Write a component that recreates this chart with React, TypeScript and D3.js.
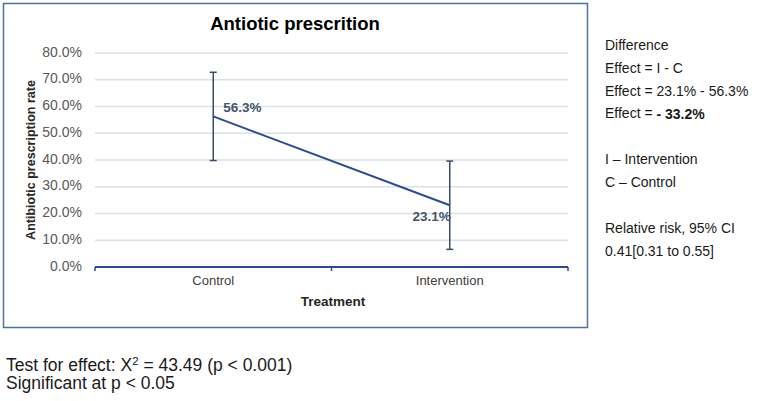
import { line, scaleBand, scaleLinear } from "d3";

const W = 780;
const H = 401;

// chart data
const categories = ["Control", "Intervention"];
const rates = [56.3, 23.1];
const errors = [16.5, 16.5];
const yTicks = [0, 10, 20, 30, 40, 50, 60, 70, 80];

const sideNotes = [
  "Difference",
  "Effect = I - C",
  "Effect = 23.1% - 56.3%",
  "",
  "",
  "I \u2013 Intervention",
  "C \u2013 Control",
  "",
  "Relative risk, 95% CI",
  "0.41[0.31 to 0.55]",
];

const PLOT = { left: 95, right: 568, top: 53, bottom: 267 };
const FONT = "'Liberation Sans', Arial, sans-serif";
const LINE_COLOR = "#2f4b8c";

function App() {
  const xScale = scaleBand<string>()
    .domain(categories)
    .range([PLOT.left, PLOT.right]);
  const yScale = scaleLinear().domain([0, 80]).range([PLOT.bottom, PLOT.top]);

  const cx = (c: string) => (xScale(c) ?? 0) + xScale.bandwidth() / 2;
  const points = categories.map((c, i) => ({ c, v: rates[i], e: errors[i] }));

  const linePath = line<{ c: string; v: number }>()
    .x((d) => cx(d.c))
    .y((d) => yScale(d.v));

  const gridLines = yTicks.map((t) => (
    <g key={t}>
      {t > 0 && (
        <line
          x1={PLOT.left}
          x2={PLOT.right}
          y1={yScale(t)}
          y2={yScale(t)}
          stroke="#d9e1ee"
          strokeWidth={1.5}
        />
      )}
      <text
        x={82}
        y={yScale(t)}
        textAnchor="end"
        dominantBaseline="middle"
        fontSize={14}
        fill="#595959"
      >
        {t.toFixed(1)}%
      </text>
    </g>
  ));

  const ticksX = [PLOT.left, ...categories.map((c) => (xScale(c) ?? 0) + xScale.bandwidth())];

  const errorBars = points.map((p) => {
    const x = cx(p.c);
    const y1 = yScale(p.v + p.e);
    const y2 = yScale(p.v - p.e);
    return (
      <g key={p.c} stroke="#3d4a66" strokeWidth={1.5}>
        <line x1={x} x2={x} y1={y1} y2={y2} />
        <line x1={x - 3.5} x2={x + 3.5} y1={y1} y2={y1} />
        <line x1={x - 3.5} x2={x + 3.5} y1={y2} y2={y2} />
      </g>
    );
  });

  return (
    <div style={{ position: "absolute", left: 0, top: 0 }}>
      <svg width={W} height={H} fontFamily={FONT}>
        <rect width={W} height={H} fill="#ffffff" />
        <rect
          x={3.5}
          y={3.5}
          width={584}
          height={324}
          fill="#ffffff"
          stroke="#4f6fa8"
          strokeWidth={1.5}
        />
        <text
          x={295}
          y={25}
          textAnchor="middle"
          dominantBaseline="middle"
          fontSize={18.5}
          fontWeight={700}
          fill="#000"
        >
          Antiotic prescrition
        </text>

        {gridLines}

        <line
          x1={PLOT.left}
          x2={PLOT.right}
          y1={PLOT.bottom}
          y2={PLOT.bottom}
          stroke={LINE_COLOR}
          strokeWidth={2}
        />
        {ticksX.map((x, i) => (
          <line
            key={i}
            x1={x}
            x2={x}
            y1={PLOT.bottom}
            y2={PLOT.bottom + 4}
            stroke={LINE_COLOR}
            strokeWidth={1.5}
          />
        ))}

        {categories.map((c) => (
          <text
            key={c}
            x={cx(c)}
            y={282}
            textAnchor="middle"
            dominantBaseline="middle"
            fontSize={13}
            fill="#404040"
          >
            {c}
          </text>
        ))}
        <text
          x={333}
          y={302}
          textAnchor="middle"
          dominantBaseline="middle"
          fontSize={13.5}
          fontWeight={700}
          fill="#262626"
        >
          Treatment
        </text>
        <text
          transform={`translate(32,${(PLOT.top + PLOT.bottom) / 2}) rotate(-90)`}
          textAnchor="middle"
          dominantBaseline="middle"
          fontSize={12.5}
          fontWeight={700}
          fill="#262626"
        >
          Antibiotic prescription rate
        </text>

        {errorBars}
        <path d={linePath(points) ?? ""} fill="none" stroke={LINE_COLOR} strokeWidth={2} />

        <text
          x={cx(categories[0]) + 10}
          y={yScale(rates[0]) - 8}
          fontSize={13.5}
          fontWeight={700}
          fill="#44546a"
          dominantBaseline="middle"
        >
          {rates[0].toFixed(1)}%
        </text>
        <text
          x={cx(categories[1]) + 1}
          y={yScale(rates[1]) + 12}
          fontSize={13.5}
          fontWeight={700}
          fill="#44546a"
          textAnchor="end"
          dominantBaseline="middle"
        >
          {rates[1].toFixed(1)}%
        </text>

        <g fontSize={14} fill="#1a1a1a">
          {sideNotes.map((s, i) =>
            s ? (
              <text key={i} x={605} y={46 + i * 22.9} dominantBaseline="middle">
                {s}
              </text>
            ) : null
          )}
          <text x={605} y={46 + 3 * 22.9} dominantBaseline="middle">
            Effect = <tspan fontWeight={700}>- 33.2%</tspan>
          </text>
        </g>

        <g fontSize={17.5} fill="#1a1a1a">
          <text x={6} y={366} dominantBaseline="middle">
            Test for effect: X<tspan fontSize={11.5} dy={-4}>2</tspan>
            <tspan dy={4}> = 43.49 (p &lt; 0.001)</tspan>
          </text>
          <text x={6} y={384} dominantBaseline="middle">
            Significant at p &lt; 0.05
          </text>
        </g>
      </svg>
    </div>
  );
}

export default App;
